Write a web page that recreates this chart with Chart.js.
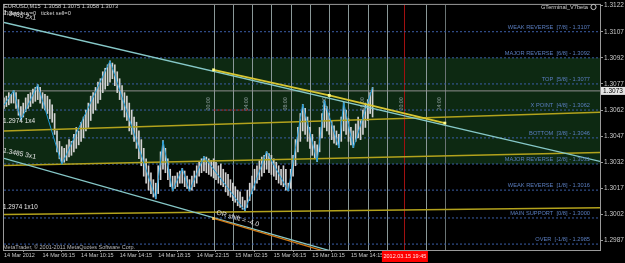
<!DOCTYPE html>
<html lang="en">
<head>
  <meta charset="UTF-8" />
  <meta name="viewport" content="width=device-width, initial-scale=1" />
  <title>EURUSD,M15</title>
  <script src="https://cdn.jsdelivr.net/npm/chart.js"></script>
  <style>
    html, body { margin: 0; padding: 0; background: #000; }
    #wrap { width: 625px; height: 263px; position: relative; background: #000; }
  </style>
</head>
<body>
  <div id="wrap"><canvas id="mt"></canvas></div>

  <script>
    // bar index 0 = 14 Mar 02:15, one bar every 15 minutes (M15)
    const barHigh = [
      1.3069, 1.3070, 1.3072, 1.3071, 1.30732, 1.3072, 1.3068, 1.3064, 1.3066, 1.3069, 1.3071, 1.3072, 1.3074, 1.3075, 1.30766,
      1.3075, 1.3072, 1.3071, 1.3070, 1.3068, 1.3065, 1.3060, 1.3050, 1.3044, 1.3041,
      1.3040, 1.3042, 1.3045, 1.3044, 1.3048, 1.3052, 1.3050, 1.3055, 1.3058, 1.3062, 1.3066, 1.3070, 1.3072, 1.3075, 1.3078, 1.3080, 1.3084, 1.3086, 1.3088, 1.30902,
      1.3089, 1.3088, 1.3084, 1.3080, 1.3076, 1.3072, 1.3070, 1.3066, 1.3062, 1.3058, 1.3055, 1.3050, 1.3045, 1.3040, 1.3034, 1.3030, 1.3026, 1.3022, 1.3020,
      1.3030, 1.3038, 1.30444,
      1.3040, 1.3034, 1.3028, 1.3024,
      1.3024, 1.3026, 1.3027, 1.30285,
      1.3027, 1.3024, 1.3022,
      1.3024, 1.3027, 1.3030, 1.3032, 1.3034, 1.30353,
      1.3035, 1.3034, 1.3033, 1.3034, 1.3032, 1.3030, 1.3031, 1.3028, 1.3026, 1.3025, 1.3022, 1.3020, 1.3018, 1.3016, 1.3015, 1.3012, 1.3010,
      1.3016, 1.3020, 1.3024, 1.3028, 1.3030, 1.3033, 1.3035, 1.3036, 1.30381,
      1.3037, 1.3036, 1.3034, 1.3032, 1.3030, 1.3028, 1.3030, 1.3028, 1.3020,
      1.3028, 1.3036, 1.3045, 1.3052, 1.3060, 1.30653,
      1.3063, 1.3058, 1.3052, 1.3048, 1.3044, 1.3042,
      1.3052, 1.3060, 1.30675,
      1.3064, 1.3060, 1.3056, 1.3053, 1.3050, 1.3048,
      1.3058, 1.30664,
      1.3062, 1.3057, 1.3052, 1.3050,
      1.3054, 1.3058, 1.3056, 1.3062, 1.3066, 1.3068, 1.3072, 1.3075
    ];
    const barLow = [
      1.3063, 1.3064, 1.3065, 1.3066, 1.3066, 1.3063, 1.3059, 1.30562, 1.3058, 1.3061, 1.3063, 1.3064, 1.3066, 1.3067, 1.3068,
      1.3066, 1.3063, 1.3062, 1.3060, 1.3057, 1.3055, 1.3048, 1.3038, 1.3034, 1.30308,
      1.3032, 1.3033, 1.3035, 1.3036, 1.3038, 1.3040, 1.3042, 1.3044, 1.3046, 1.3050, 1.3052, 1.3056, 1.3060, 1.3062, 1.3066, 1.3068, 1.3072, 1.3074, 1.3076, 1.3078,
      1.3080, 1.3076, 1.3072, 1.3068, 1.3062, 1.3058, 1.3056, 1.3050, 1.3048, 1.3044, 1.3040, 1.3034, 1.3030, 1.3024, 1.3020, 1.3016, 1.3014, 1.3012, 1.3011,
      1.3014, 1.3022, 1.3028,
      1.3026, 1.3022, 1.3018, 1.30155,
      1.3017, 1.3018, 1.3020, 1.3020,
      1.3018, 1.3017, 1.30155,
      1.3016, 1.3018, 1.3020, 1.3024, 1.3026, 1.3027,
      1.3026, 1.3025, 1.3024, 1.3023, 1.3022, 1.3020, 1.3019, 1.3018, 1.3015, 1.3013, 1.3012, 1.3010, 1.3009, 1.3007, 1.3006, 1.3005, 1.30042,
      1.3006, 1.3010, 1.3014, 1.3016, 1.3020, 1.3022, 1.3024, 1.3026, 1.3028,
      1.3026, 1.3025, 1.3024, 1.3022, 1.3020, 1.3019, 1.3018, 1.3016, 1.30155,
      1.3017, 1.3024, 1.3030, 1.3038, 1.3044, 1.3050,
      1.3048, 1.3044, 1.3040, 1.3036, 1.3034, 1.30324,
      1.3038, 1.3046, 1.3052,
      1.3050, 1.3048, 1.3045, 1.3043, 1.3042, 1.30404,
      1.3044, 1.3050,
      1.3048, 1.3044, 1.3042, 1.30404,
      1.3044, 1.3046, 1.3045, 1.3048, 1.3052, 1.3056, 1.3060, 1.3058
    ];

    // zigzag swing points
    const zigzagIdx = [0, 4, 7, 14, 24, 44, 63, 66, 70, 74, 77, 83, 100, 109, 118, 124, 130, 133, 139, 141, 145, 153];
    const zigzagPrice = [1.30647, 1.30732, 1.30562, 1.30766, 1.30308, 1.30902, 1.3011, 1.30444, 1.30155, 1.30285, 1.30155,
      1.30353, 1.30042, 1.30381, 1.30155, 1.30653, 1.30324, 1.30675, 1.30404, 1.30664, 1.30404, 1.3075];

    // axes
    const lastIdx = 247.4;
    const timeTickIdx = [0, 16, 32, 48, 64, 80, 96, 112, 128, 144];
    const timeTickText = ["14 Mar 2012", "14 Mar 06:15", "14 Mar 10:15", "14 Mar 14:15", "14 Mar 18:15",
      "14 Mar 22:15", "15 Mar 02:15", "15 Mar 06:15", "15 Mar 10:15", "15 Mar 14:15"];
    const priceTicks = [1.3122, 1.3107, 1.3092, 1.3077, 1.3062, 1.3047, 1.3032, 1.3017, 1.3002, 1.2987];
    const lastPrice = 1.3073;

    // murrey math levels
    const murreyLevels = [1.3107, 1.3092, 1.3077, 1.3062, 1.3046, 1.3031, 1.3016, 1.3000, 1.2985];
    const murreyNames = ["WEAK REVERSE  [7/8] - 1.3107", "MAJOR REVERSE  [6/8] - 1.3092", "TOP  [5/8] - 1.3077",
      "X POINT  [4/8] - 1.3062", "BOTTOM  [3/8] - 1.3046", "MAJOR REVERSE  [2/8] - 1.3031",
      "WEAK REVERSE  [1/8] - 1.3016", "MAIN SUPPORT  [0/8] - 1.3000", "OVER  [-1/8] - 1.2985"];
    const greenZone = [1.3092, 1.3031];

    // session lines every 2 hours, red marker at 19:45
    const sessionIdx = [87, 95, 103, 111, 119, 127, 135, 143, 151, 159, 175, 183];
    const sessionTextIdx = [87, 103, 119, 135, 151, 167, 183];
    const sessionText = ["00:00", "04:00", "08:00", "12:00", "16:00", "20:00", "24:00"];
    const redLineIdx = 166;
    const redLineText = "2012.03.15 19:45";
    const redDotted = [[87, 1.3062], [103, 1.3062]];

    // drawn objects: [bar index, price]
    const channelTop = [[0, 1.31123], [lastIdx, 1.30325]];
    const channelLow = [[0, 1.30342], [135.8, 1.2981]];
    const orShift = [[87, 1.29997], [134, 1.29805]];
    const yellowTrend = [[87, 1.30851], [135, 1.30704], [183, 1.30545]];
    const fan1x4 = [[0, 1.30500], [lastIdx, 1.30608]];
    const fan3x1 = [[0, 1.30302], [lastIdx, 1.30376]];
    const fan1x10 = [[0, 1.30020], [lastIdx, 1.30059]];

    const FONT = '"Liberation Sans", Arial, sans-serif';

    function lineDs(pts, color, width, extra) {
      return Object.assign({
        type: "line",
        data: pts.map(p => ({ x: p[0], y: p[1] })),
        borderColor: color,
        borderWidth: width,
        pointRadius: 0,
        fill: false,
        tension: 0
      }, extra || {});
    }

    function label(ctx, s, x, y, opt) {
      opt = opt || {};
      ctx.save();
      ctx.font = (opt.size || 5.7) + "px " + FONT;
      ctx.fillStyle = opt.color || "#d0d0d0";
      ctx.textAlign = opt.align || "left";
      ctx.textBaseline = opt.base || "middle";
      ctx.translate(x, y);
      if (opt.angle) ctx.rotate(opt.angle);
      ctx.fillText(s, 0, 0);
      ctx.restore();
    }

    const backdrop = {
      id: "backdrop",
      beforeDatasetsDraw(chart) {
        const { ctx, chartArea: a, scales: { x, y } } = chart;
        ctx.save();
        const y1 = y.getPixelForValue(greenZone[0]);
        const y2 = y.getPixelForValue(greenZone[1]);
        ctx.fillStyle = "#0d2912";
        ctx.fillRect(a.left, y1, a.right - a.left, y2 - y1);

        ctx.lineWidth = 1;
        sessionIdx.forEach(i => {
          const px = Math.round(x.getPixelForValue(i)) + 0.5;
          ctx.strokeStyle = i === 183 ? "#6a7474" : "#8a9898";
          ctx.beginPath();
          ctx.moveTo(px, a.top);
          ctx.lineTo(px, a.bottom);
          ctx.stroke();
        });
        const rx = Math.round(x.getPixelForValue(redLineIdx)) + 0.5;
        ctx.strokeStyle = "#a01010";
        ctx.beginPath();
        ctx.moveTo(rx, a.top);
        ctx.lineTo(rx, a.bottom);
        ctx.stroke();

        sessionTextIdx.forEach((i, k) => {
          label(ctx, sessionText[k], x.getPixelForValue(i) - 2.5, a.top + 99,
            { angle: -Math.PI / 2, align: "center", base: "bottom", color: "#8c9c9c", size: 5.3 });
        });
        ctx.restore();
      }
    };

    const overlay = {
      id: "overlay",
      afterDraw(chart) {
        const { ctx, chartArea: a, scales: { x, y } } = chart;
        ctx.save();
        ctx.strokeStyle = "#9a9a9a";
        ctx.lineWidth = 1;
        ctx.strokeRect(a.left - 0.5, a.top - 0.5, a.right - a.left + 1, a.bottom - a.top + 1);
        ctx.restore();

        murreyNames.forEach((n, k) => {
          label(ctx, n, a.right - 10, y.getPixelForValue(murreyLevels[k]) - 1.5,
            { align: "right", base: "bottom", color: "#5a7ec0" });
        });

        label(ctx, "EURUSD,M15  1.3058 1.3075 1.3058 1.3073", 4, 6.5, { color: "#d4d4d4" });
        label(ctx, "Ticket buy=0   ticket sell=0", 4, 13, { color: "#d4d4d4" });
        label(ctx, "1.3485 2x1", 3, 12.5, { size: 6.8, angle: 0.17, color: "#e0e0e0" });
        label(ctx, "GTerminal_V7beta", a.right - 12, 7, { align: "right", color: "#d4d4d4" });
        ctx.save();
        ctx.strokeStyle = "#c8c8c8";
        ctx.beginPath();
        ctx.arc(a.right - 6.5, 7, 2.6, 0, Math.PI * 2);
        ctx.stroke();
        ctx.restore();

        label(ctx, "1.2974 1x4", 3, 121, { size: 6.5, color: "#e6e6e6" });
        label(ctx, "1.3485 3x1", 3, 150.5, { size: 6.8, angle: 0.2, color: "#e6e6e6" });
        label(ctx, "1.2974 1x10", 3, 207, { size: 6.3, color: "#e6e6e6" });
        const ox = x.getPixelForValue(orShift[0][0]);
        const oy = y.getPixelForValue(orShift[0][1]);
        label(ctx, "OR shift = -4.0", ox + 3, oy - 6, { size: 6.8, angle: 0.28, color: "#e6e6e6" });

        label(ctx, "MetaTrader, \u00a9 2001-2011 MetaQuotes Software Corp.", 3, 247, { size: 5.5, color: "#b8b8b8" });

        // current price tag on the price axis
        const py = y.getPixelForValue(lastPrice);
        ctx.save();
        ctx.fillStyle = "#e4e4e4";
        ctx.fillRect(a.right + 1, py - 4, 24, 8);
        ctx.restore();
        label(ctx, lastPrice.toFixed(4), a.right + 3, py, { size: 6.5, color: "#000" });

        // time marker box on the time axis
        const rx = x.getPixelForValue(redLineIdx);
        ctx.save();
        ctx.fillStyle = "#ff0000";
        ctx.fillRect(rx - 22, a.bottom + 1, 46, 11);
        ctx.restore();
        label(ctx, redLineText, rx + 1, a.bottom + 6.5, { size: 5.5, align: "center", color: "#ffe4e4" });
      }
    };

    const datasets = [];
    murreyLevels.forEach(v => {
      datasets.push(lineDs([[0, v], [lastIdx, v]], "#3b5ea6", 1, { borderDash: [2, 2], order: 90 }));
    });
    datasets.push(lineDs([[0, lastPrice], [lastIdx, lastPrice]], "#8e8e8e", 1, { order: 85 }));
    datasets.push(lineDs(redDotted, "#d02020", 1, { borderDash: [2, 2], order: 84 }));
    datasets.push({
      type: "bar",
      data: barHigh.map((h, i) => ({ x: i, y: [barLow[i], h] })),
      backgroundColor: "#d2d2d2",
      borderWidth: 0,
      barThickness: 1,
      order: 70
    });
    [fan1x4, fan3x1, fan1x10].forEach(f => {
      datasets.push(lineDs(f, "#b3a21c", 1.5, { order: 60 }));
    });
    datasets.push(lineDs(zigzagIdx.map((i, k) => [i, zigzagPrice[k]]), "#1e9ad6", 1, { order: 50 }));
    datasets.push(lineDs(channelTop, "#86c8c8", 1.3, { order: 40 }));
    datasets.push(lineDs(channelLow, "#86c8c8", 1.3, { order: 40 }));
    datasets.push(lineDs(orShift, "#d07814", 1.3, {
      order: 35, pointRadius: [2, 0], pointStyle: "rect",
      pointBackgroundColor: "#f0c060", pointBorderWidth: 0
    }));
    datasets.push(lineDs(yellowTrend, "#d8c632", 1.8, {
      order: 30, pointRadius: 2, pointStyle: "rect",
      pointBackgroundColor: "#ffff90", pointBorderWidth: 0
    }));

    new Chart(document.getElementById("mt"), {
      type: "line",
      data: { datasets },
      options: {
        responsive: true,
        maintainAspectRatio: false,
        animation: false,
        events: [],
        layout: { padding: { left: 1, top: 1, right: 0, bottom: 0 } },
        plugins: { legend: { display: false }, tooltip: { enabled: false } },
        scales: {
          x: {
            type: "linear",
            min: 0,
            max: lastIdx,
            offset: false,
            afterBuildTicks: s => { s.ticks = timeTickIdx.map(v => ({ value: v })); },
            afterFit: s => { s.height = 13; },
            border: { display: false },
            grid: { drawOnChartArea: false, color: "#9a9a9a", tickLength: 2 },
            ticks: {
              autoSkip: false, maxRotation: 0, align: "start", padding: 0,
              color: "#c8c8c8", font: { family: FONT, size: 5.5 },
              callback: (v) => timeTickText[timeTickIdx.indexOf(v)]
            }
          },
          y: {
            position: "right",
            min: 1.29816,
            max: 1.31224,
            afterBuildTicks: s => { s.ticks = priceTicks.map(v => ({ value: v })); },
            afterFit: s => { s.width = 25; },
            border: { display: false },
            grid: { drawOnChartArea: false, color: "#9a9a9a", tickLength: 3 },
            ticks: {
              autoSkip: false, padding: 1,
              color: "#c8c8c8", font: { family: FONT, size: 6.5 },
              callback: (v) => Number(v).toFixed(4)
            }
          }
        }
      },
      plugins: [backdrop, overlay]
    });
  </script>
</body>
</html>
